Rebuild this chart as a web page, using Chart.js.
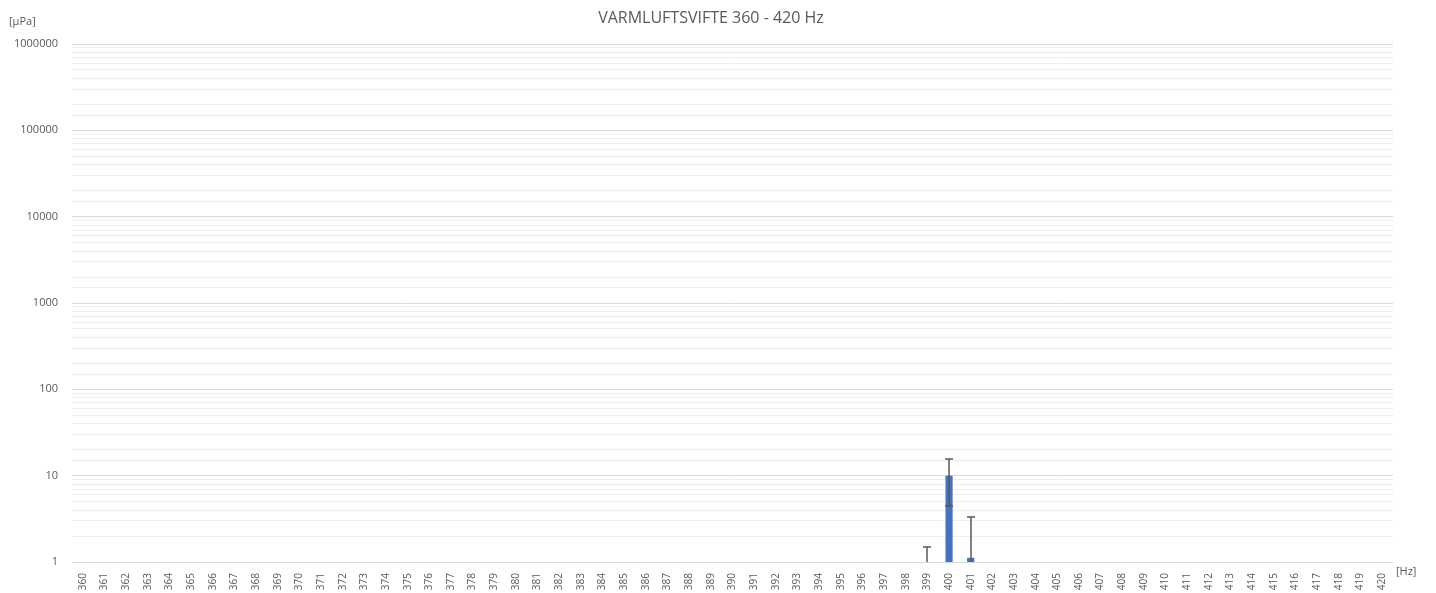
<!DOCTYPE html>
<html>
<head>
<meta charset="utf-8">
<title>Varmluftsvifte 360 - 420 Hz</title>
<script src="https://cdn.jsdelivr.net/npm/chart.js@4.4.1/dist/chart.umd.min.js"></script>
<style>
  html, body { margin: 0; padding: 0; background: #ffffff; }
  #wrap { width: 1436px; height: 593px; }
</style>
</head>
<body>
<div id="wrap"><canvas id="myChart" width="1436" height="593"></canvas></div>
<script>
// frequency bins [Hz]
var freqs = ['360', '361', '362', '363', '364', '365', '366', '367', '368', '369',
             '370', '371', '372', '373', '374', '375', '376', '377', '378', '379',
             '380', '381', '382', '383', '384', '385', '386', '387', '388', '389',
             '390', '391', '392', '393', '394', '395', '396', '397', '398', '399',
             '400', '401', '402', '403', '404', '405', '406', '407', '408', '409',
             '410', '411', '412', '413', '414', '415', '416', '417', '418', '419',
             '420'];

// sound pressure [µPa]
var pressure = [0, 0, 0, 0, 0, 0, 0, 0, 0, 0,
                0, 0, 0, 0, 0, 0, 0, 0, 0, 0,
                0, 0, 0, 0, 0, 0, 0, 0, 0, 0,
                0, 0, 0, 0, 0, 0, 0, 0, 0, 0.5,
                10, 1.12, 0, 0, 0, 0, 0, 0, 0, 0,
                0, 0, 0, 0, 0, 0, 0, 0, 0, 0,
                0];

// standard deviation (error bars)
var deviation = [0, 0, 0, 0, 0, 0, 0, 0, 0, 0,
                 0, 0, 0, 0, 0, 0, 0, 0, 0, 0,
                 0, 0, 0, 0, 0, 0, 0, 0, 0, 0,
                 0, 0, 0, 0, 0, 0, 0, 0, 0, 1.0,
                 5.5, 2.2, 0, 0, 0, 0, 0, 0, 0, 0,
                 0, 0, 0, 0, 0, 0, 0, 0, 0, 0,
                 0];

var yMajorTicks = [1, 10, 100, 1000, 10000, 100000, 1000000];

var textGrey = '#595959';

//draw error bars + title + axis units
var extras = {
  id: 'extras',
  afterDatasetsDraw: function(chart) {
    var c = chart.ctx;
    var y = chart.scales.y;
    var area = chart.chartArea;
    var meta = chart.getDatasetMeta(0);
    c.save();
    c.beginPath();
    c.rect(area.left, area.top - 1, area.right - area.left, area.bottom - area.top + 1);
    c.clip();
    c.strokeStyle = '#595959';
    c.lineWidth = 1.5;
    for (var i = 0; i < pressure.length; i++) {
      if (!deviation[i]) continue;
      var x = Math.round(meta.data[i].x);
      var hi = Math.round(y.getPixelForValue(pressure[i] + deviation[i]));
      var hasLow = pressure[i] - deviation[i] > 0;
      var lo = hasLow ? Math.round(y.getPixelForValue(pressure[i] - deviation[i])) : area.bottom + 5;
      c.beginPath();
      c.moveTo(x, hi);
      c.lineTo(x, lo);
      c.moveTo(x - 4, hi);
      c.lineTo(x + 4, hi);
      if (hasLow) {
        c.moveTo(x - 4, lo);
        c.lineTo(x + 4, lo);
      }
      c.stroke();
    }
    c.restore();
  },
  afterDraw: function(chart) {
    var c = chart.ctx;
    c.save();
    c.fillStyle = textGrey;
    c.font = '16px "Open Sans", sans-serif';
    c.textAlign = 'center';
    c.textBaseline = 'middle';
    c.fillText('VARMLUFTSVIFTE 360 - 420 Hz', 711, 18);
    c.font = '11px "Open Sans", sans-serif';
    c.textAlign = 'left';
    c.fillText('[µPa]', 9, 22);
    c.fillText('[Hz]', 1396, 572);
    c.restore();
  }
};

var ctx = document.getElementById('myChart').getContext('2d');

var myChart = new Chart(ctx, {
  type: 'bar',
  data: {
    labels: freqs,
    datasets: [{
      data: pressure,
      backgroundColor: '#4472C4',
      barPercentage: 0.6,
      categoryPercentage: 0.55
    }]
  },
  options: {
    responsive: false,
    animation: false,
    layout: {
      padding: { top: 44, right: 43, left: 0, bottom: 0 }
    },
    plugins: {
      legend: { display: false },
      tooltip: { enabled: false }
    },
    scales: {
      x: {
        grid: { display: false },
        border: { display: false },
        ticks: {
          color: textGrey,
          font: { family: '"Open Sans", sans-serif', size: 10 },
          minRotation: 90,
          maxRotation: 90,
          autoSkip: false,
          padding: 3
        },
        afterFit: function(scale) { scale.height = 31; }
      },
      y: {
        type: 'logarithmic',
        min: 1,
        max: 1000000,
        border: { display: false },
        grid: {
          drawTicks: false,
          color: function(context) {
            var v = context.tick ? context.tick.value : 0;
            return yMajorTicks.indexOf(v) >= 0 ? '#d9d9d9' : '#eeeeee';
          }
        },
        ticks: {
          autoSkip: false,
          color: textGrey,
          font: { family: '"Open Sans", sans-serif', size: 11 },
          padding: 14,
          callback: function(value) {
            return yMajorTicks.indexOf(value) >= 0 ? String(value) : '';
          }
        },
        afterFit: function(scale) { scale.width = 72; }
      }
    }
  },
  plugins: [extras]
});
</script>
</body>
</html>
